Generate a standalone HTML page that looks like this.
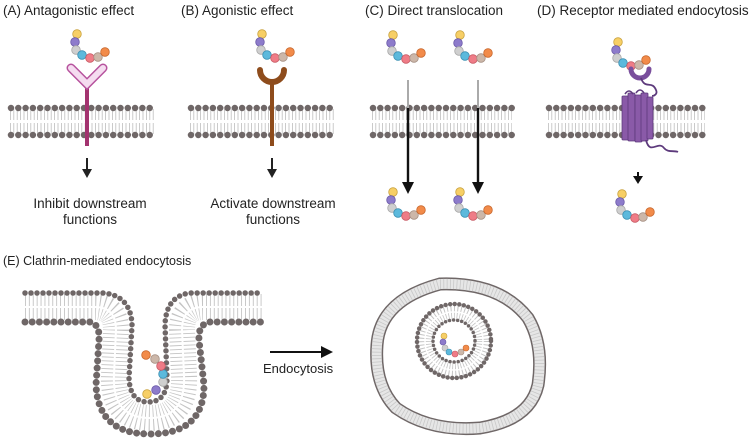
<!DOCTYPE html>
<html><head><meta charset="utf-8"><style>
html,body{margin:0;padding:0;background:#fff;}
svg{display:block;}
text{font-family:"Liberation Sans",Arial,sans-serif;fill:#222;}
</style></head><body>
<svg width="750" height="439" viewBox="0 0 750 439" xmlns="http://www.w3.org/2000/svg">
<defs>
<g id="chain">
<circle cx="0" cy="0" r="4.3" fill="#f7cf66" stroke="#c9a23e" stroke-width="0.8"/>
<circle cx="-2" cy="8" r="4.3" fill="#8d7bcb" stroke="#6a58a8" stroke-width="0.8"/>
<circle cx="-1" cy="16" r="4.3" fill="#cfcfcf" stroke="#a8a8a8" stroke-width="0.8"/>
<circle cx="5" cy="21" r="4.3" fill="#5cb9dc" stroke="#3a8fb2" stroke-width="0.8"/>
<circle cx="13" cy="24" r="4.3" fill="#ef7c87" stroke="#c85a64" stroke-width="0.8"/>
<circle cx="21" cy="23" r="4.3" fill="#ccb7a9" stroke="#a69084" stroke-width="0.8"/>
<circle cx="28" cy="18" r="4.3" fill="#f28b4a" stroke="#c8672c" stroke-width="0.8"/>
</g>
</defs>

<!-- titles -->
<text x="3" y="15" font-size="13.5">(A)  Antagonistic effect</text>
<text x="181" y="15" font-size="13.5">(B) Agonistic effect</text>
<text x="365" y="15" font-size="13.5">(C) Direct translocation</text>
<text x="537" y="15" font-size="13.5">(D)  Receptor mediated endocytosis</text>
<text x="3" y="265" font-size="12.5">(E)   Clathrin-mediated endocytosis</text>

<!-- straight membranes -->
<g>
<g stroke="#bdbdbd" stroke-width="11" stroke-dasharray="0.8 2.6" fill="none">
<path d="M10 114.5H155M190 114.5H335M372 114.5H512M548 114.5H705"/>
<path d="M10 128.5H155M190 128.5H335M372 128.5H512M548 128.5H705"/>
</g>
<g stroke="#6f6767" stroke-width="6.5" stroke-dasharray="0 7.3" stroke-linecap="round" fill="none">
<path d="M11 108H155M191 108H335M373 108H512M549 108H705"/>
<path d="M11 135H155M191 135H335M373 135H512M549 135H705"/>
</g>
</g>

<!-- A receptor -->
<line x1="87" y1="86" x2="87" y2="146" stroke="#a3336f" stroke-width="4"/>
<path d="M71 68 L87 84 L103 68" fill="none" stroke="#b7539e" stroke-width="9" stroke-linejoin="miter" stroke-linecap="round"/>
<path d="M71 68 L87 84 L103 68" fill="none" stroke="#f5dcf0" stroke-width="6" stroke-linejoin="miter" stroke-linecap="round"/>
<use href="#chain" x="77" y="34"/>

<!-- B receptor -->
<line x1="272" y1="84" x2="272" y2="146" stroke="#8e4c1c" stroke-width="4"/>
<path d="M260 70 A12 12 0 0 0 284 70" fill="none" stroke="#8e4c1c" stroke-width="6" stroke-linecap="round"/>
<use href="#chain" x="262" y="34"/>

<!-- arrows A,B -->
<g fill="#222" stroke="#222">
<line x1="87" y1="158" x2="87" y2="170" stroke-width="2"/><path d="M82 169H92L87 178Z" stroke="none"/>
<line x1="272" y1="158" x2="272" y2="170" stroke-width="2"/><path d="M267 169H277L272 178Z" stroke="none"/>
</g>
<text x="90" y="208" font-size="13.5" text-anchor="middle">Inhibit downstream</text>
<text x="90" y="224" font-size="13.5" text-anchor="middle">functions</text>
<text x="273" y="208" font-size="13.5" text-anchor="middle">Activate downstream</text>
<text x="273" y="224" font-size="13.5" text-anchor="middle">functions</text>

<!-- C -->
<line x1="408" y1="80" x2="408" y2="108" stroke="#aaa" stroke-width="2"/>
<line x1="478" y1="80" x2="478" y2="108" stroke="#aaa" stroke-width="2"/>
<g fill="#111" stroke="#111">
<line x1="408" y1="108" x2="408" y2="184" stroke-width="2.4"/><path d="M402 182H414L408 194Z" stroke="none"/>
<line x1="478" y1="108" x2="478" y2="184" stroke-width="2.4"/><path d="M472 182H484L478 194Z" stroke="none"/>
</g>
<use href="#chain" x="393" y="35"/>
<use href="#chain" x="460" y="35"/>
<use href="#chain" x="393" y="192"/>
<use href="#chain" x="460" y="192"/>

<!-- D -->
<use href="#chain" x="618" y="42"/>
<path d="M631 69 A9 9 0 0 0 649 69" fill="none" stroke="#7a4f9d" stroke-width="5" stroke-linecap="round"/>
<path d="M641 78 C645 90 652 80 656 90 C658 94 654 96 652 96" fill="none" stroke="#5d3a7c" stroke-width="1.8"/>
<g fill="#8a5aa8" stroke="#5d3a7c" stroke-width="0.8">
<rect x="622" y="96" width="7" height="44" rx="1"/>
<rect x="628" y="93" width="7" height="48" rx="1"/>
<rect x="635" y="95" width="7" height="47" rx="1"/>
<rect x="641" y="93" width="7" height="48" rx="1"/>
<rect x="647" y="97" width="6" height="42" rx="1"/>
</g>
<path d="M625 94 q4 -6 8 0 M636 93 q4 -6 8 0" fill="none" stroke="#5d3a7c" stroke-width="1.6"/>
<path d="M646 140 C650 156 658 140 664 148 C668 153 674 150 678 152" fill="none" stroke="#5d3a7c" stroke-width="1.8"/>
<g fill="#111" stroke="#111">
<line x1="638" y1="172" x2="638" y2="178" stroke-width="2"/><path d="M633 176H643L638 184Z" stroke="none"/>
</g>
<use href="#chain" x="622" y="194"/>

<!-- E: invagination -->
<g fill="none">
<path d="M25 307 H95 Q116 307 116 330 L114 375 Q112 418 150 418 Q186 418 184 375 L182 330 Q182 307 203 307 H262" stroke="#c4c4c4" stroke-width="26" stroke-dasharray="0.9 3"/>
<path d="M25 307 H95 Q116 307 116 330 L114 375 Q112 418 150 418 Q186 418 184 375 L182 330 Q182 307 203 307 H262" stroke="#fff" stroke-width="2"/>
<path d="M25 293 H104 Q131 296 132 325 L129 378 Q130 402 148 402 Q167 402 167 378 L165 325 Q166 296 190 293 H262" stroke="#6f6767" stroke-width="5.5" stroke-dasharray="0 6" stroke-linecap="round"/>
<path d="M25 322 H90 Q100 324 99 340 L96 385 Q98 434 150 434 Q204 434 204 385 L199 340 Q198 324 210 322 H262" stroke="#6f6767" stroke-width="7" stroke-dasharray="0 7.2" stroke-linecap="round"/>
</g>
<g stroke-width="0.8">
<circle cx="147" cy="394" r="4.3" fill="#f7cf66" stroke="#c9a23e"/>
<circle cx="156" cy="390" r="4.3" fill="#8d7bcb" stroke="#6a58a8"/>
<circle cx="163" cy="382" r="4.3" fill="#cfcfcf" stroke="#a8a8a8"/>
<circle cx="163" cy="374" r="4.3" fill="#5cb9dc" stroke="#3a8fb2"/>
<circle cx="161" cy="366" r="4.3" fill="#ef7c87" stroke="#c85a64"/>
<circle cx="155" cy="359" r="4.3" fill="#ccb7a9" stroke="#a69084"/>
<circle cx="146" cy="355" r="4.3" fill="#f28b4a" stroke="#c8672c"/>
</g>

<!-- arrow E -->
<line x1="270" y1="352" x2="322" y2="352" stroke="#111" stroke-width="2"/>
<path d="M321 346 L333 352 L321 358Z" fill="#111"/>
<text x="263" y="373" font-size="13">Endocytosis</text>

<!-- outer vesicle -->
<path d="M440 284 Q500 282 528 318 Q544 345 538 385 Q530 420 480 428 Q430 432 396 408 Q374 385 377 345 Q380 300 440 284Z" fill="none" stroke="#6f6767" stroke-width="13"/>
<path d="M440 284 Q500 282 528 318 Q544 345 538 385 Q530 420 480 428 Q430 432 396 408 Q374 385 377 345 Q380 300 440 284Z" fill="none" stroke="#e6e6e6" stroke-width="10"/>
<path d="M440 284 Q500 282 528 318 Q544 345 538 385 Q530 420 480 428 Q430 432 396 408 Q374 385 377 345 Q380 300 440 284Z" fill="none" stroke="#c8c8c8" stroke-width="10" stroke-dasharray="0.8 2.5"/>

<!-- inner vesicle -->
<circle cx="454" cy="341" r="29" fill="none" stroke="#c4c4c4" stroke-width="16" stroke-dasharray="0.9 2.2"/>
<circle cx="454" cy="341" r="29" fill="none" stroke="#fff" stroke-width="1.5"/>
<circle cx="454" cy="341" r="37" fill="none" stroke="#6f6767" stroke-width="4.5" stroke-dasharray="0 4.6" stroke-linecap="round"/>
<circle cx="454" cy="341" r="21" fill="none" stroke="#6f6767" stroke-width="3.5" stroke-dasharray="0 4.1" stroke-linecap="round"/>
<g stroke-width="0.6">
<circle cx="444" cy="336" r="3" fill="#f7cf66" stroke="#c9a23e"/>
<circle cx="443" cy="342" r="3" fill="#8d7bcb" stroke="#6a58a8"/>
<circle cx="445" cy="348" r="3" fill="#cfcfcf" stroke="#a8a8a8"/>
<circle cx="449" cy="352" r="3" fill="#5cb9dc" stroke="#3a8fb2"/>
<circle cx="455" cy="354" r="3" fill="#ef7c87" stroke="#c85a64"/>
<circle cx="461" cy="352" r="3" fill="#ccb7a9" stroke="#a69084"/>
<circle cx="466" cy="348" r="3" fill="#f28b4a" stroke="#c8672c"/>
</g>
</svg>
</body></html>
